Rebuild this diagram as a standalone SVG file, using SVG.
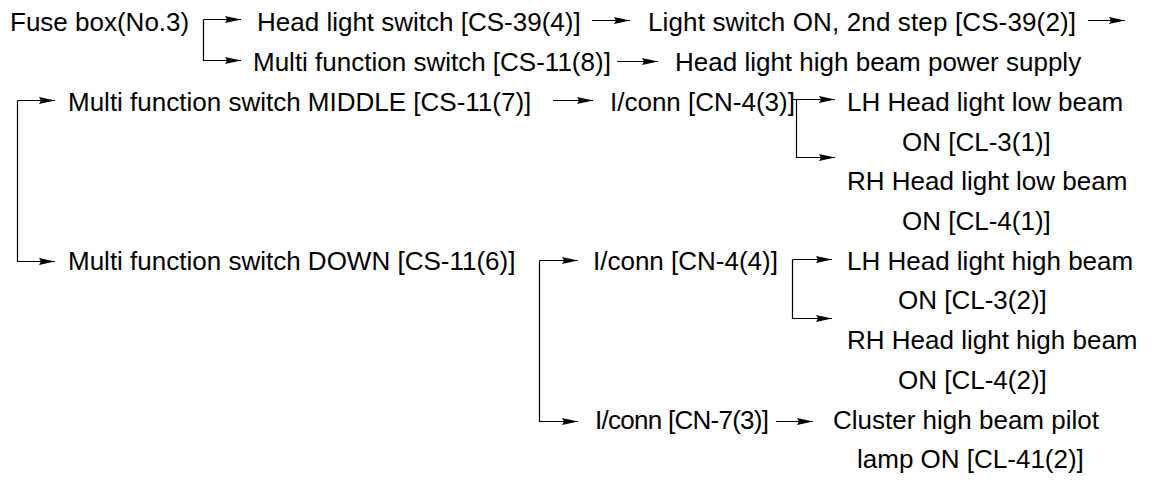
<svg xmlns="http://www.w3.org/2000/svg" width="1157" height="480" viewBox="0 0 1157 480">
<style>
text{font-family:"Liberation Sans",Arial,sans-serif;font-size:26px;fill:#000}
.c{fill:none;stroke:#000;stroke-width:1.2}
</style>
<defs>
<marker id="ah" markerUnits="userSpaceOnUse" markerWidth="18" markerHeight="10" refX="16" refY="4" orient="auto">
<path d="M0,0.6 L16,4 L0,7.4 L2,4 z" fill="#000"/>
</marker>
</defs>
<rect width="1157" height="480" fill="#fff"/>
<g id="connectors">
<path class="c" d="M203.5,19.5 V60.5 H241" marker-end="url(#ah)"/>
<path class="c" d="M203.5,19.5 H241" marker-end="url(#ah)"/>
<path class="c" d="M592,20.5 H630" marker-end="url(#ah)"/>
<path class="c" d="M1088,20.5 H1125" marker-end="url(#ah)"/>
<path class="c" d="M617,61.5 H658" marker-end="url(#ah)"/>
<path class="c" d="M17.5,100.5 H55" marker-end="url(#ah)"/>
<path class="c" d="M17.5,100.5 V261.5 H55" marker-end="url(#ah)"/>
<path class="c" d="M553,100.5 H593" marker-end="url(#ah)"/>
<path class="c" d="M792,99.5 H796.5 H835" marker-end="url(#ah)"/>
<path class="c" d="M796.5,99.5 V157.5 H835" marker-end="url(#ah)"/>
<path class="c" d="M539.5,260.5 H578" marker-end="url(#ah)"/>
<path class="c" d="M539.5,260.5 V421.5 H578" marker-end="url(#ah)"/>
<path class="c" d="M792.5,259.5 H832" marker-end="url(#ah)"/>
<path class="c" d="M792.5,259.5 V318.5 H832" marker-end="url(#ah)"/>
<path class="c" d="M776,421.5 H813" marker-end="url(#ah)"/>
</g>
<g id="n-fuse"><text x="10" y="31">Fuse box(No.3)</text></g>
<g id="n-hls"><text x="257" y="31">Head light switch [CS-39(4)]</text></g>
<g id="n-lson"><text x="648" y="31" textLength="428">Light switch ON, 2nd step [CS-39(2)]</text></g>
<g id="n-mfs8"><text x="253" y="70.5">Multi function switch [CS-11(8)]</text></g>
<g id="n-hbps"><text x="675" y="70.5">Head light high beam power supply</text></g>
<g id="n-mfsmid"><text x="68" y="110.5">Multi function switch MIDDLE [CS-11(7)]</text></g>
<g id="n-cn43"><text x="610" y="110.5">I/conn [CN-4(3)]</text></g>
<g id="n-lhlow"><text x="847" y="110.5">LH Head light low beam</text><text x="902" y="150.5">ON [CL-3(1)]</text></g>
<g id="n-rhlow"><text x="847" y="190">RH Head light low beam</text><text x="902" y="230">ON [CL-4(1)]</text></g>
<g id="n-mfsdown"><text x="68" y="270">Multi function switch DOWN [CS-11(6)]</text></g>
<g id="n-cn44"><text x="593" y="270">I/conn [CN-4(4)]</text></g>
<g id="n-lhhigh"><text x="847" y="270">LH Head light high beam</text><text x="898" y="309">ON [CL-3(2)]</text></g>
<g id="n-rhhigh"><text x="847" y="349">RH Head light high beam</text><text x="898" y="389">ON [CL-4(2)]</text></g>
<g id="n-cn73"><text x="595" y="428.5" textLength="174">I/conn [CN-7(3)]</text></g>
<g id="n-cluster"><text x="833" y="428.5">Cluster high beam pilot</text><text x="857" y="468">lamp ON [CL-41(2)]</text></g>
</svg>
